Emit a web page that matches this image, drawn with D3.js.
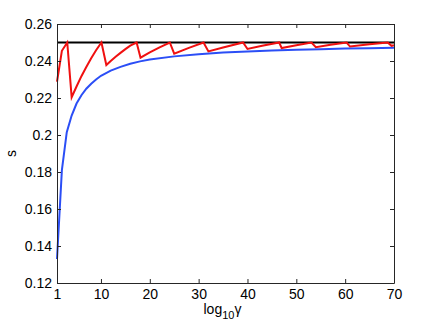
<!DOCTYPE html>
<html lang="en">
<head>
  <meta charset="UTF-8" />
  <title>s vs log10 gamma</title>
  <script src="https://d3js.org/d3.v7.min.js"></script>
  <style>
    body {
      margin: 0;
      background: #fff;
    }
    svg {
      display: block;
      font-family: "Liberation Sans", Arial, sans-serif;
    }
    .tick text {
      font-size: 14px;
      fill: #000;
    }
    .tick line, .domain {
      stroke: #262626;
    }
  </style>
</head>
<body>
<script>
// tick values
const xTicks = [1, 10, 20, 30, 40, 50, 60, 70];
const yTicks = [0.12, 0.14, 0.16, 0.18, 0.2, 0.22, 0.24, 0.26];

// upper bound (black line)
const boundX = [1, 70];
const boundY = [0.25, 0.25];

// red sawtooth curve
const redX = [1, 2, 3.1, 4, 5, 6, 7, 8, 9, 10.1, 11.1, 12, 13, 14, 15, 16, 17.3,
  18.1, 20, 22, 24.1, 25, 28, 31, 32, 35, 39.1, 40, 43, 46.5, 47, 50, 53.1, 54,
  57, 60.3, 61, 65, 68.7, 69.5, 70];
const redY = [0.2288, 0.2455, 0.25, 0.2204, 0.2262, 0.2318, 0.2368, 0.2415, 0.2458, 0.25,
  0.2378, 0.2400, 0.2423, 0.2444, 0.2464, 0.2483, 0.25,
  0.2418, 0.2447, 0.2474, 0.25, 0.2440, 0.2471, 0.25, 0.2452, 0.2473, 0.25, 0.2465,
  0.2482, 0.25, 0.2470, 0.2485, 0.25, 0.2475, 0.2488, 0.25, 0.2478, 0.2490, 0.25,
  0.2482, 0.2485];

// blue smooth curve
const blueX = [1, 2, 3, 4, 5, 6, 7, 8, 9, 10, 12, 14, 16, 18, 20, 25, 30, 35, 40, 45,
  50, 55, 60, 65, 70];
const blueY = [0.133, 0.181, 0.2015, 0.2105, 0.217, 0.2215, 0.2250, 0.2277, 0.2300, 0.2320,
  0.2348, 0.2368, 0.2385, 0.2398, 0.2408, 0.2425, 0.2437, 0.2446, 0.2452, 0.2457,
  0.2461, 0.2464, 0.2467, 0.2469, 0.2471];

const W = 436, H = 327;
const margin = {top: 24, right: 42, bottom: 44, left: 57};
const iw = W - margin.left - margin.right;
const ih = H - margin.top - margin.bottom;

const svg = d3.select("body").append("svg")
  .attr("width", W)
  .attr("height", H);

const g = svg.append("g")
  .attr("transform", `translate(${margin.left},${margin.top})`);

const x = d3.scaleLinear().domain([1, 70]).range([0, iw]);
const y = d3.scaleLinear().domain([0.12, 0.26]).range([ih, 0]);

const line = d3.line()
  .x(d => x(d[0]))
  .y(d => y(d[1]));

const zip = (a, b) => a.map((v, i) => [v, b[i]]);

g.append("path")
  .datum(zip(blueX, blueY))
  .attr("fill", "none")
  .attr("stroke", "#2b4ef6")
  .attr("stroke-width", 2)
  .attr("d", line);

g.append("path")
  .datum(zip(boundX, boundY))
  .attr("fill", "none")
  .attr("stroke", "#000")
  .attr("stroke-width", 2)
  .attr("d", line);

g.append("path")
  .datum(zip(redX, redY))
  .attr("fill", "none")
  .attr("stroke", "#f01010")
  .attr("stroke-width", 2)
  .attr("stroke-linejoin", "miter")
  .attr("d", line);

// axes, ticks pointing inward, mirrored on top/right
const fmtY = v => String(+v.toFixed(2));

g.append("g")
  .attr("transform", `translate(0,${ih})`)
  .call(d3.axisBottom(x).tickValues(xTicks).tickSizeInner(-4).tickSizeOuter(0).tickPadding(6));

g.append("g")
  .call(d3.axisLeft(y).tickValues(yTicks).tickFormat(fmtY).tickSizeInner(-4).tickSizeOuter(0).tickPadding(5));

g.append("g")
  .call(d3.axisTop(x).tickValues(xTicks).tickFormat("").tickSizeInner(-4).tickSizeOuter(0));

g.append("g")
  .attr("transform", `translate(${iw},0)`)
  .call(d3.axisRight(y).tickValues(yTicks).tickFormat("").tickSizeInner(-4).tickSizeOuter(0));

g.selectAll(".tick text").attr("font-family", null).attr("font-size", null);

// axis labels
const xl = svg.append("text")
  .attr("x", margin.left + iw / 2 - 22)
  .attr("y", 314)
  .attr("font-size", 14)
  .attr("fill", "#000");
xl.append("tspan").text("log");
xl.append("tspan").attr("dy", 5).attr("font-size", 11).text("10");
xl.append("tspan").attr("dy", -5).text("γ");

svg.append("text")
  .attr("transform", `translate(16,${margin.top + ih / 2}) rotate(-90)`)
  .attr("text-anchor", "middle")
  .attr("font-size", 14)
  .attr("fill", "#000")
  .text("s");
</script>
</body>
</html>
